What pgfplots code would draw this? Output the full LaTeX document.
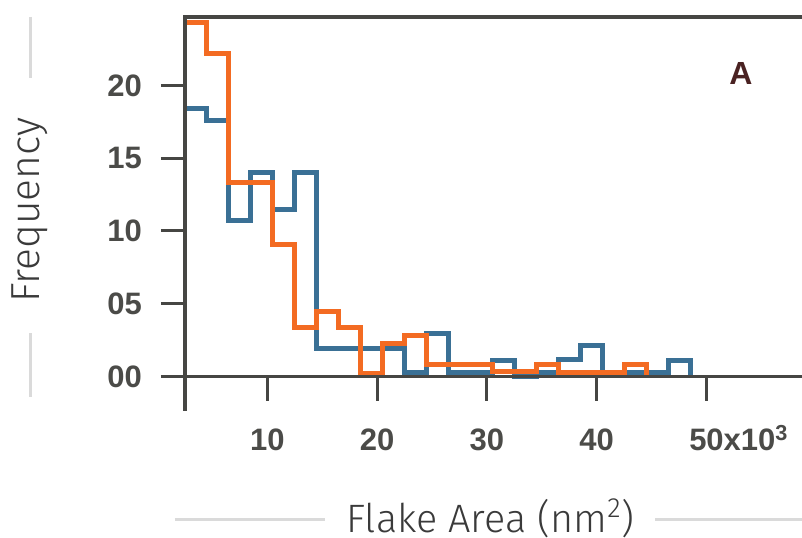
\documentclass[border=0pt]{standalone}
\usepackage{fontspec}
\setmainfont{Liberation Sans}
\newfontfamily\labelfont{Fira Sans Light}
\usepackage{pgfplots}
\pgfplotsset{compat=1.18}

\definecolor{cblue}{HTML}{3A7095}
\definecolor{corange}{HTML}{F36B22}
\definecolor{axgray}{HTML}{464643}
\definecolor{tickgray}{HTML}{4B4B48}
\definecolor{labgray}{HTML}{3A3A3A}
\definecolor{decogray}{HTML}{DADADA}
\definecolor{brownA}{HTML}{4A2222}

\begin{document}
\begin{tikzpicture}
\begin{axis}[
    at={(0,0)}, anchor=south west,
    scale only axis,
    width=308.5pt, height=179.75pt,
    xmin=2.5, xmax=58.7,
    ymin=0, ymax=24.7,
    axis lines*=left,
    axis line style={axgray, line width=1.75pt},
    axis on top,
    clip=false,
    xtick={10,20,30,40,50},
    xticklabels={10,20,30,40,50\rlap{x10\textsuperscript{3}}},
    ytick={0,5,10,15,20},
    yticklabels={00,05,10,15,20},
    minor tick num=0,
    tick align=outside,
    major tick length=12pt,
    tick style={axgray, line width=1.5pt},
    tick label style={font=\fontsize{15.5}{16}\selectfont\bfseries, text=tickgray},
    xticklabel style={text height=14pt, text depth=0pt, yshift=-7.5pt},
    yticklabel style={xshift=-6pt},
    xlabel={Flake Area (nm\textsuperscript{2})},
    ylabel={Frequency},
    xlabel style={font=\labelfont\fontsize{19.8}{22}\selectfont, text=labgray,
        inner sep=0pt, at={(axis description cs:0.495,-0.394)}, anchor=center},
    ylabel style={font=\labelfont\fontsize{20.3}{22}\selectfont, text=labgray,
        inner sep=0pt, at={(axis description cs:-0.251,0.463)}, anchor=center},
]

% blue histogram (left bin edges, bin width 2k)
\addplot[const plot, cblue, line width=2.5pt] coordinates {
    (2.5,18.4) (4.5,17.6) (6.5,10.75) (8.5,14.0) (10.5,11.5) (12.5,14.05)
    (14.5,1.95) (16.5,1.95) (18.5,1.95) (20.5,1.95) (22.5,0.25) (24.5,2.95)
    (26.5,0.3) (28.5,0.3) (30.5,1.1) (32.5,0.0) (34.5,0.3) (36.5,1.15)
    (38.5,2.1) (40.5,0.3) (42.5,0.3) (44.5,0.3) (46.5,1.1) (48.5,0)
};

% orange histogram
\addplot[const plot, corange, line width=2.5pt] coordinates {
    (2.5,24.3) (4.5,22.2) (6.5,13.3) (8.5,13.3) (10.5,9.1) (12.5,3.35)
    (14.5,4.5) (16.5,3.4) (18.5,0.2) (20.5,2.3) (22.5,2.85) (24.5,0.85)
    (26.5,0.85) (28.5,0.85) (30.5,0.33) (32.5,0.33) (34.5,0.85) (36.5,0.3)
    (38.5,0.3) (40.5,0.3) (42.5,0.85) (44.5,0)
};

% top line and lower spine extension
\draw[axgray, line width=1.75pt, line join=miter]
    (rel axis cs:1,1) -- (rel axis cs:0,1) -- (rel axis cs:0,0) -- ++(0pt,-17pt);

% light rules beside the axis titles
\draw[decogray, line width=1.5pt]
    (axis description cs:-0.0162,-0.399) -- (axis description cs:0.2269,-0.399)
    (axis description cs:0.7618,-0.399) -- (axis description cs:1,-0.399)
    (axis description cs:-0.2512,1.0) -- (axis description cs:-0.2512,0.830)
    (axis description cs:-0.2512,0.121) -- (axis description cs:-0.2512,-0.057);

\node[font=\fontsize{16}{18}\selectfont\bfseries, text=brownA]
    at (axis description cs:0.901,0.844) {A};
\end{axis}
\pgfresetboundingbox
\useasboundingbox (-92.5pt,-80.25pt) rectangle (308.5pt,188.25pt);
\end{tikzpicture}
\end{document}
